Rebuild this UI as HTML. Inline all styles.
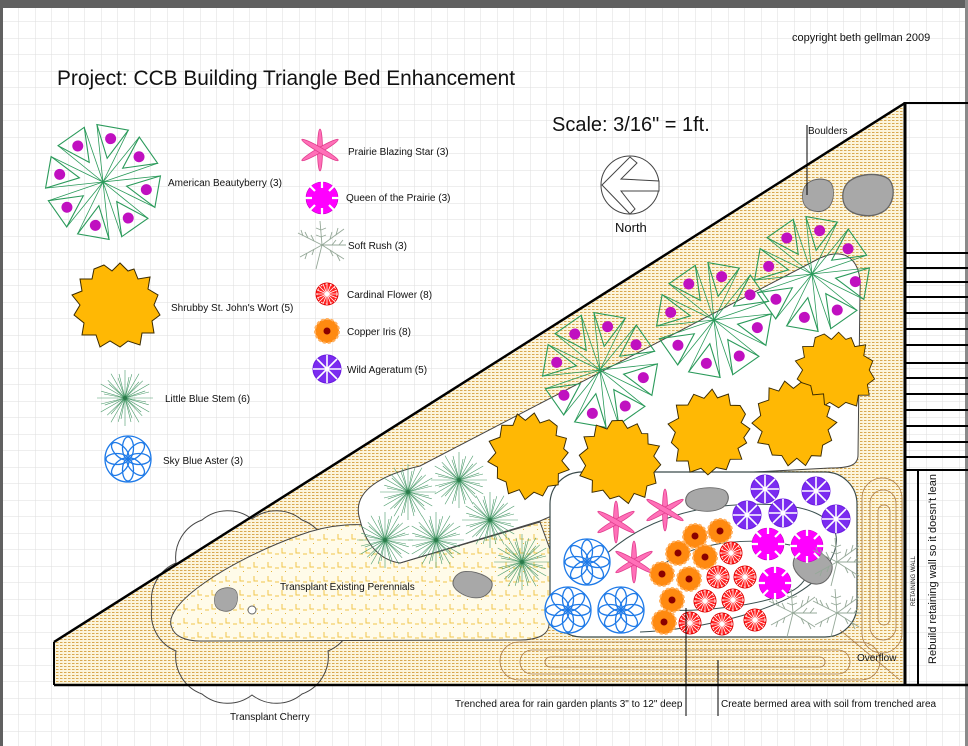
<!DOCTYPE html>
<html><head><meta charset="utf-8"><style>
html,body{margin:0;padding:0;background:#fff}
svg{display:block}
text{font-family:"Liberation Sans",Arial,sans-serif;fill:#111}
</style></head><body>
<svg width="968" height="746" viewBox="0 0 968 746" xmlns="http://www.w3.org/2000/svg">
<defs>
<pattern id="grid" width="16.5" height="16.5" patternUnits="userSpaceOnUse" x="2" y="5">
<rect width="16.5" height="16.5" fill="#fff"/>
<path d="M0,0 H16.5 M0,0 V16.5" stroke="#dedede" stroke-width="1" fill="none"/>
</pattern>
<pattern id="tan" width="4" height="3" patternUnits="userSpaceOnUse">
<rect width="4" height="3" fill="#fcf5dc"/>
<rect width="2.5" height="1" fill="#d8a850"/>
</pattern>
<pattern id="per" width="14" height="14" patternUnits="userSpaceOnUse">
<rect width="14" height="14" fill="#fffbe9"/>
<path d="M2,2 v5 h4 M9,8 h4" stroke="#f0c64a" stroke-width="1" fill="none"/>
<rect x="5" y="11" width="1" height="1" fill="#e6b640"/>
</pattern>
<g id="wedge">
<polygon points="24,0 55.5,-16 55.5,16" fill="none" stroke="#2a9a5a" stroke-width="1.1"/>
<path d="M0,0 L55.5,-16 M0,0 L55.5,16" stroke="#2a9a5a" stroke-width="0.8"/>
<circle cx="44" cy="0" r="5.5" fill="#c010c0"/>
</g>
<g id="bb">
<use href="#wedge" transform="rotate(10)"/><use href="#wedge" transform="rotate(55)"/>
<use href="#wedge" transform="rotate(100)"/><use href="#wedge" transform="rotate(145)"/>
<use href="#wedge" transform="rotate(190)"/><use href="#wedge" transform="rotate(235)"/>
<use href="#wedge" transform="rotate(280)"/><use href="#wedge" transform="rotate(325)"/>
</g>
<path id="blob" d="M-12,-40 L-4,-34 L4,-42 L12,-34 L18,-36 L22,-26 L34,-28 L32,-16 L42,-10 L38,0 L44,10 L36,16 L38,28 L26,28 L24,40 L12,36 L4,42 L-6,36 L-16,42 L-20,30 L-34,30 L-32,18 L-42,10 L-36,0 L-44,-10 L-34,-14 L-36,-26 L-24,-26 L-22,-36 Z" fill="#ffb804" stroke="#3a2a00" stroke-width="1"/>
<g id="sl2"><path d="M0,0 L28,0 M0,0 L21,4 M0,0 L24,-6" stroke="#4a9a6a" stroke-width="0.6" fill="none"/></g>
<g id="stem">
<use href="#sl2"/><use href="#sl2" transform="rotate(30)"/><use href="#sl2" transform="rotate(60)"/>
<use href="#sl2" transform="rotate(90)"/><use href="#sl2" transform="rotate(120)"/><use href="#sl2" transform="rotate(150)"/>
<use href="#sl2" transform="rotate(180)"/><use href="#sl2" transform="rotate(210)"/><use href="#sl2" transform="rotate(240)"/>
<use href="#sl2" transform="rotate(270)"/><use href="#sl2" transform="rotate(300)"/><use href="#sl2" transform="rotate(330)"/>
<circle r="2" fill="#2a7a4a"/>
</g>
<g id="aster" fill="none" stroke="#1e7ae8" stroke-width="1.3">
<circle r="23" fill="#fff"/>
<ellipse cy="-11" rx="5.5" ry="11"/><ellipse cy="-11" rx="5.5" ry="11" transform="rotate(45)"/>
<ellipse cy="-11" rx="5.5" ry="11" transform="rotate(90)"/><ellipse cy="-11" rx="5.5" ry="11" transform="rotate(135)"/>
<ellipse cy="-11" rx="5.5" ry="11" transform="rotate(180)"/><ellipse cy="-11" rx="5.5" ry="11" transform="rotate(225)"/>
<ellipse cy="-11" rx="5.5" ry="11" transform="rotate(270)"/><ellipse cy="-11" rx="5.5" ry="11" transform="rotate(315)"/>
</g>
<g id="star" fill="#ff70b8" stroke="#e03c8c" stroke-width="0.8">
<ellipse rx="2.5" ry="21"/><ellipse rx="2.5" ry="21" transform="rotate(60)"/><ellipse rx="2.5" ry="21" transform="rotate(120)"/>
</g>
<g id="queen">
<circle r="16" fill="#ff00ff" stroke="#c000c0" stroke-width="0.6"/>
<path d="M0,-10 V-17 M0,10 V17 M-10,0 H-17 M10,0 H17 M7,7 L12,12 M-7,7 L-12,12 M7,-7 L12,-12 M-7,-7 L-12,-12" stroke="#fff" stroke-width="2.2"/>
</g>
<g id="card">
<circle r="11" fill="#ff2020" stroke="#e00000"/>
<path d="M0,-11 V11 M-11,0 H11 M-8,-8 L8,8 M-8,8 L8,-8 M-4,-10 L4,10 M-10,-4 L10,4 M-10,4 L10,-4 M-4,10 L4,-10" stroke="#fff" stroke-width="0.8"/>
<circle r="10" fill="none" stroke="#fff" stroke-width="0.8" stroke-dasharray="2 3"/>
</g>
<g id="copper">
<circle r="12" fill="#ff8a10" stroke="#ffb060" stroke-width="2" stroke-dasharray="3 2"/>
<circle r="3.5" fill="#8a0000"/>
</g>
<g id="ager">
<circle r="14" fill="#7b2cf0" stroke="#6a1ae0"/>
<path d="M0,-14 V14 M-14,0 H14 M-10,-10 L10,10 M-10,10 L10,-10" stroke="#fff" stroke-width="1.6"/>
</g>
<g id="rush" stroke="#95a898" stroke-width="0.9" fill="none">
<path d="M0,0 L-24,-12 M0,0 L22,-16 M0,0 L-22,12 M0,0 L22,14 M0,0 L-2,-24 M0,0 L-6,24 M0,0 L24,0"/>
<path d="M-8,-4 l-3,-6 M-14,-7 l-3,-6 M-19,-9 l-2,-6 M8,-6 l2,-7 M14,-10 l2,-7 M-8,4 l-2,6 M-15,8 l-2,6 M8,5 l3,6 M15,10 l3,6 M-1,-8 l-5,-2 M-1,-15 l-5,-2 M-1,-8 l5,-2 M-1,-15 l5,-2 M10,0 l4,-5 M17,0 l4,-5"/>
</g>
<path id="rock" d="M-18,-6 C-14,-16 8,-18 16,-12 C22,-6 20,8 10,12 C2,16 -12,14 -17,8 C-20,4 -20,-2 -18,-6 Z" fill="#a8a8a8" stroke="#666" stroke-width="1"/>
</defs>

<rect width="968" height="746" fill="url(#grid)"/>
<rect width="968" height="8" fill="#606060"/>
<rect width="3" height="746" fill="#606060"/>
<rect x="965" y="0" width="3" height="746" fill="#8a8a8a"/>

<text x="792" y="41" font-size="11">copyright beth gellman 2009</text>
<text x="57" y="85" font-size="21.5" textLength="458" lengthAdjust="spacingAndGlyphs">Project: CCB Building Triangle Bed Enhancement</text>
<text x="552" y="131" font-size="20">Scale: 3/16" = 1ft.</text>

<!-- compass -->
<circle cx="630" cy="185" r="29" fill="#fff" stroke="#444" stroke-width="1"/>
<polygon points="602,185 630,157 637,163 621,179 659,181 659,191 621,191 635,209 630,214" fill="#fff" stroke="#444" stroke-width="1"/>
<text x="615" y="232" font-size="13">North</text>

<!-- triangle -->
<polygon points="54,642 905,103 905,685 54,685" fill="url(#tan)"/>
<!-- cherry outline -->
<path d="M352,607 A40,40 0 0 1 328,651 A40,40 0 0 1 302,694 A40,40 0 0 1 252,695 A40,40 0 0 1 202,694 A40,40 0 0 1 176,651 A40,40 0 0 1 152,607 A40,40 0 0 1 176,563 A40,40 0 0 1 202,520 A40,40 0 0 1 252,519 A40,40 0 0 1 302,520 A40,40 0 0 1 328,563 A40,40 0 0 1 352,607 Z" fill="none" stroke="#444" stroke-width="1"/>
<!-- perennials bed -->
<path d="M172,628 C160,605 230,560 300,535 C330,524 360,522 385,528 L400,563 L540,522 L552,555 L549,625 C548,636 535,640 520,640 L200,641 C185,641 175,636 172,628 Z" fill="url(#per)" stroke="#444" stroke-width="1"/>
<!-- upper bed -->
<path d="M360,520 C350,490 385,474 420,466 L820,258 C848,246 862,262 860,292 L858,455 C858,466 848,468 830,468 L640,478 L540,521 L400,563 C380,560 366,545 360,520 Z" fill="#fff" stroke="#444" stroke-width="1"/>
<!-- rain garden -->
<rect x="550" y="472" width="307" height="165" rx="32" fill="#fff" stroke="#3a4a4a" stroke-width="1.2"/>
<path d="M600,560 C640,520 700,500 780,505 C840,510 850,540 820,575 C790,610 700,630 640,632" fill="none" stroke="#3a5050" stroke-width="1"/>
<path d="M650,575 C680,545 740,535 790,545 C815,552 815,580 790,592 C760,606 700,612 665,610" fill="none" stroke="#3a5050" stroke-width="1"/>
<!-- coils -->
<g fill="none" stroke="#a87a48" stroke-width="0.8">
<rect x="862" y="478" width="40" height="175" rx="20"/>
<rect x="870" y="490" width="26" height="150" rx="13"/>
<rect x="878" y="505" width="12" height="120" rx="6"/>
<rect x="500" y="642" width="380" height="38" rx="19"/>
<rect x="520" y="650" width="330" height="24" rx="12"/>
<rect x="545" y="657" width="280" height="10" rx="5"/>
<path d="M840,630 L900,680"/>
</g>

<!-- hypotenuse & frame lines -->
<line x1="54" y1="642" x2="905" y2="103" stroke="#000" stroke-width="2.5"/>
<line x1="54" y1="642" x2="54" y2="685" stroke="#000" stroke-width="2"/>
<line x1="54" y1="685" x2="968" y2="685" stroke="#000" stroke-width="2.5"/>
<line x1="905" y1="102" x2="905" y2="686" stroke="#000" stroke-width="3"/>
<line x1="905" y1="103" x2="968" y2="103" stroke="#000" stroke-width="2"/>
<g stroke="#000" stroke-width="2">
<line x1="905" y1="253" x2="968" y2="253"/><line x1="905" y1="268" x2="968" y2="268"/>
<line x1="905" y1="282" x2="968" y2="282"/><line x1="905" y1="297" x2="968" y2="297"/>
<line x1="905" y1="313" x2="968" y2="313"/><line x1="905" y1="329" x2="968" y2="329"/>
<line x1="905" y1="345" x2="968" y2="345"/><line x1="905" y1="363" x2="968" y2="363"/>
<line x1="905" y1="378" x2="968" y2="378"/><line x1="905" y1="394" x2="968" y2="394"/>
<line x1="905" y1="410" x2="968" y2="410"/><line x1="905" y1="426" x2="968" y2="426"/>
<line x1="905" y1="442" x2="968" y2="442"/><line x1="905" y1="457" x2="968" y2="457"/>
<line x1="905" y1="470" x2="968" y2="470"/>
<line x1="918" y1="470" x2="918" y2="685"/>
</g>
<text transform="translate(936,664) rotate(-90)" font-size="11" textLength="190" lengthAdjust="spacingAndGlyphs">Rebuild retaining wall so it doesn't lean</text>
<text transform="translate(915,606) rotate(-90)" font-size="6">RETAINING WALL</text>

<!-- beds: plants -->
<use href="#rock" transform="translate(818,196) scale(0.8,1.1)"/>
<use href="#rock" transform="translate(868,196) scale(1.3,1.4)"/>
<use href="#rock" transform="translate(707,500) scale(1.1,0.8)"/>
<use href="#rock" transform="translate(472,585) scale(1,0.85) rotate(25)"/>
<use href="#rock" transform="translate(226,600) scale(0.6,0.8)"/>
<use href="#rock" transform="translate(812,567) scale(1,1.1) rotate(30)"/>
<circle cx="252" cy="610" r="4" fill="#fff" stroke="#666"/>

<use href="#bb" x="600" y="370"/>
<use href="#bb" x="714" y="320"/>
<use href="#bb" x="812" y="274"/>

<use href="#blob" transform="translate(835,370) scale(0.9)"/>
<use href="#blob" transform="translate(795,422) scale(0.95) rotate(40)"/>
<use href="#blob" transform="translate(710,432) scale(0.95) rotate(80)"/>
<use href="#blob" transform="translate(620,460) scale(0.95) rotate(20)"/>
<use href="#blob" transform="translate(530,455) scale(0.95) rotate(60)"/>

<use href="#stem" x="408" y="492"/>
<use href="#stem" x="459" y="480"/>
<use href="#stem" x="385" y="540"/>
<use href="#stem" x="436" y="540"/>
<use href="#stem" x="490" y="520"/>
<use href="#stem" x="522" y="562"/>

<use href="#aster" x="587" y="562"/>
<use href="#aster" x="568" y="610"/>
<use href="#aster" x="621" y="610"/>
<use href="#star" x="616" y="522"/>
<use href="#star" x="665" y="510"/>
<use href="#star" x="634" y="562"/>
<use href="#copper" x="695" y="536"/><use href="#copper" x="720" y="531"/>
<use href="#copper" x="678" y="553"/><use href="#copper" x="705" y="557"/>
<use href="#copper" x="662" y="574"/><use href="#copper" x="689" y="579"/>
<use href="#copper" x="672" y="600"/><use href="#copper" x="664" y="622"/>
<use href="#card" x="731" y="553"/><use href="#card" x="718" y="577"/>
<use href="#card" x="745" y="577"/><use href="#card" x="705" y="601"/>
<use href="#card" x="733" y="600"/><use href="#card" x="690" y="623"/>
<use href="#card" x="722" y="624"/><use href="#card" x="755" y="620"/>
<use href="#queen" x="768" y="544"/><use href="#queen" x="807" y="546"/><use href="#queen" x="775" y="583"/>
<use href="#ager" x="765" y="489"/><use href="#ager" x="816" y="491"/>
<use href="#ager" x="747" y="515"/><use href="#ager" x="783" y="513"/><use href="#ager" x="836" y="519"/>
<use href="#rush" x="837" y="562"/><use href="#rush" x="793" y="613"/><use href="#rush" x="837" y="613"/>

<!-- labels in plan -->
<text x="280" y="590" font-size="10">Transplant Existing Perennials</text>
<text x="230" y="720" font-size="10">Transplant Cherry</text>
<text x="857" y="661" font-size="10">Overflow</text>
<text x="808" y="134" font-size="10">Boulders</text>
<line x1="807" y1="125" x2="807" y2="195" stroke="#000" stroke-width="1"/>
<line x1="686" y1="608" x2="686" y2="716" stroke="#000" stroke-width="1"/>
<line x1="718" y1="660" x2="718" y2="716" stroke="#000" stroke-width="1"/>
<text x="455" y="707" font-size="10">Trenched area for rain garden plants 3" to 12" deep</text>
<text x="721" y="707" font-size="10">Create bermed area with soil from trenched area</text>

<!-- legend -->
<use href="#bb" x="103" y="182"/>
<text x="168" y="186" font-size="10">American Beautyberry (3)</text>
<use href="#blob" transform="translate(116,305) scale(1.0)"/>
<text x="171" y="311" font-size="10">Shrubby St. John's Wort (5)</text>
<use href="#stem" x="125" y="398"/>
<text x="165" y="402" font-size="10">Little Blue Stem (6)</text>
<use href="#aster" x="128" y="459"/>
<text x="163" y="464" font-size="10">Sky Blue Aster (3)</text>
<use href="#star" x="320" y="150"/>
<text x="348" y="155" font-size="10">Prairie Blazing Star (3)</text>
<use href="#queen" x="322" y="198"/>
<text x="346" y="201" font-size="10">Queen of the Prairie (3)</text>
<use href="#rush" x="322" y="245"/>
<text x="348" y="249" font-size="10">Soft Rush (3)</text>
<use href="#card" x="327" y="294"/>
<text x="347" y="298" font-size="10">Cardinal Flower (8)</text>
<use href="#copper" x="327" y="331"/>
<text x="347" y="335" font-size="10">Copper Iris (8)</text>
<use href="#ager" x="327" y="369"/>
<text x="347" y="373" font-size="10">Wild Ageratum (5)</text>
</svg>
</body></html>
